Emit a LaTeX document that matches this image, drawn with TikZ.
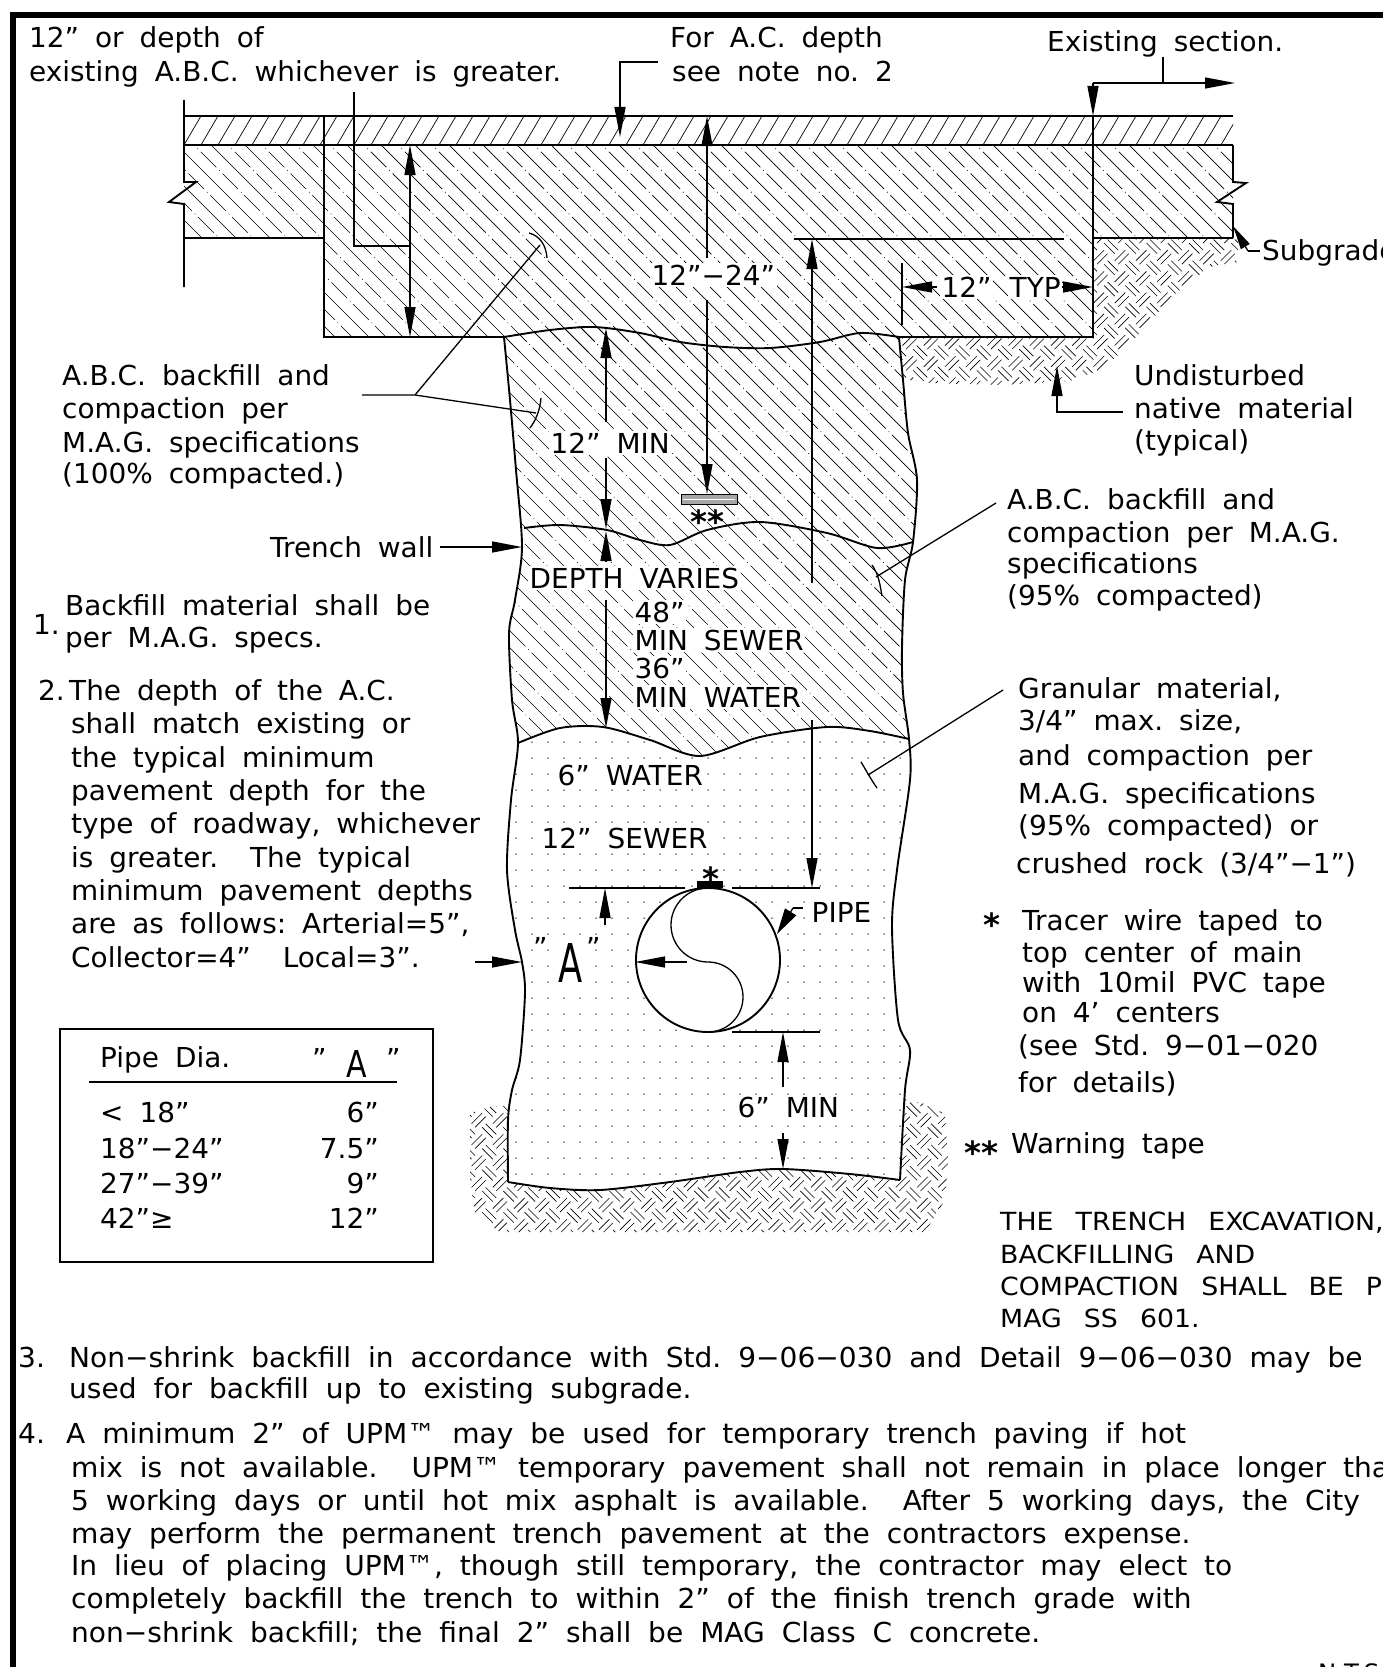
\documentclass[tikz,border=0pt]{standalone}
\usepackage{fontspec}
\usepackage{graphicx}
\setmainfont{DejaVu Sans}[WordSpace=1.8,FakeStretch=1.015]
\newfontfamily\capwide{DejaVu Sans}[WordSpace=2.6,FakeStretch=1.07]
\newfontfamily\notef{DejaVu Sans}[WordSpace=1.9,FakeStretch=1.02]
\usetikzlibrary{arrows.meta}
\newcommand\fs{\fontsize{27.5}{33}\selectfont}
\newcommand\mytxt[3]{\node[lbl] (#1) at (#2) {#3};}
\newcommand\mynote[3]{\node[lbl,font=\notef\fs] (#1) at (#2) {#3};}
\newcommand\mymask[3]{\node[lbl,mask] (#1) at (#2) {#3};}
\newcommand\astf{\bfseries\fontsize{32}{33}\selectfont}
\tikzset{
 lbl/.style={anchor=base west,inner sep=0pt,font=\fs},
 mask/.style={fill=white,inner sep=1.5pt},
 ol/.style={line width=1.9pt},
 thin/.style={line width=1.3pt},
 hat/.style={line width=0.7pt},
 wv/.style={line width=0.6pt},
 tick/.style={line width=1.3pt},
 tip/.style={-{Triangle[length=30pt,width=11pt]}},
 tips/.style={{Triangle[length=30pt,width=11pt]}-{Triangle[length=30pt,width=11pt]}}
}
% basket weave: origin x, origin y, imin, imax, jmax  (cell 15)
\newcommand\weave[5]{%
 \begin{scope}[shift={(#1,#2)},rotate=45]
 \foreach \i in {#3,...,#4}{\foreach \j in {0,...,#5}{%
   \pgfmathtruncatemacro\pp{mod(\i+\j+100,2)}%
   \ifnum\pp=0\relax
     \draw[wv] (\i*15,\j*15+5)--++(15,0) (\i*15,\j*15+10)--++(15,0);
   \else
     \draw[wv] (\i*15+5,\j*15)--++(0,15) (\i*15+10,\j*15)--++(0,15);
   \fi}}
 \end{scope}}
\newcommand\abchatch{%
 \foreach \k in {0,...,100}{%
  \pgfmathsetmacro\cc{-580+17*\k}%
  \ifodd\k\relax
    \draw[hat,dash pattern=on 22pt off 4pt on 0.8pt off 4pt] (\cc+130,130)--(\cc+770,770);
  \else
    \draw[hat] (\cc+130,130)--(\cc+770,770);
  \fi}}
\begin{document}
\frenchspacing
\begin{tikzpicture}[x=1pt,y=-1pt]
\useasboundingbox (0,0) rectangle (1382,1667);
\fill[white] (0,0) rectangle (1382,1667);

% ---------- undisturbed native material ----------
\begin{scope}
\clip (1093,238)--(1238,238)--(1238,262)--(1213,266)--(1190,282)--(1170,298)--(1150,322)--(1122,352)--(1100,370)--(1070,381)--(1000,385)--(930,383)--(903,379)--(900,337)--(1093,337)--cycle;
\weave{899}{236}{-8}{18}{24}
\end{scope}
\begin{scope}
\clip (470,1113)--(490,1107)--(512,1104)--(905,1099)--(925,1104)--(945,1114)--(948,1160)--(945,1200)--(925,1232)--(500,1232)--(475,1214)--(470,1180)--cycle;
\weave{468}{1099}{-7}{24}{30}
\end{scope}

% ---------- trench interior white ----------
\fill[white] plot[smooth] coordinates {(504,337) (510,400) (516,470) (522,547) (515,600) (509,633) (512,700) (518,743) (511,800) (507,870) (515,930) (522,962) (525,993) (520,1060) (512,1090) (508,1120) (508,1182)}
 -- plot[smooth] coordinates {(508,1182) (550,1188) (600,1190) (670,1182) (740,1172) (783,1169) (850,1174) (900,1180)}
 -- plot[smooth] coordinates {(900,1180) (905,1090) (910,1050) (898,1020) (892,927) (897,870) (910,780) (909,739) (903,693) (902,647) (905,580) (913,542) (917,480) (908,433) (903,380) (899,337)}
 -- plot[smooth] coordinates {(899,337) (860,333) (820,342) (770,348) (725,347) (680,342) (640,333) (594,327) (550,330) (504,337)} -- cycle;

% ---------- A.C. hatch ----------
\begin{scope}
\clip (184,116) rectangle (1233,145);
\foreach \x in {150,167,...,1240}{\draw[hat] (\x,145)--++(17,-29);}
\end{scope}

% ---------- A.B.C. hatch ----------
\begin{scope}
\clip (184,145)--(1233,145)--(1233,238)--(1093,238)--(1093,337)--(899,337)--(899,352)--(504,352)--(504,337)--(324,337)--(324,238)--(184,238)--cycle;
\abchatch
\end{scope}
\begin{scope}
\clip plot[smooth] coordinates {(504,337) (510,400) (516,470) (522,547) (515,600) (509,633) (512,700) (518,743)}
 -- plot[smooth] coordinates {(518,743) (560,728) (603,727) (650,740) (700,756) (760,737) (827,727) (870,731) (909,739)}
 -- plot[smooth] coordinates {(909,739) (903,693) (902,647) (905,580) (913,542) (917,480) (908,433) (903,380) (899,337)}
 -- plot[smooth] coordinates {(899,337) (860,333) (820,342) (770,348) (725,347) (680,342) (640,333) (594,327) (550,330) (504,337)} -- cycle;
\abchatch
\end{scope}

% ---------- granular dots ----------
\begin{scope}
\clip plot[smooth] coordinates {(518,743) (511,800) (507,870) (515,930) (522,962) (525,993) (520,1060) (512,1090) (508,1120) (508,1182)}
 -- plot[smooth] coordinates {(508,1182) (550,1188) (600,1190) (670,1182) (740,1172) (783,1169) (850,1174) (900,1180)}
 -- plot[smooth] coordinates {(900,1180) (905,1090) (910,1050) (898,1020) (892,927) (897,870) (910,780) (909,739)}
 -- plot[smooth] coordinates {(909,739) (870,731) (827,727) (760,737) (700,756) (650,740) (603,727) (560,728) (518,743)} -- cycle;
\foreach \x in {500,516,...,916}{\foreach \y in {726,742,...,1190}{\fill (\x,\y) circle[radius=0.75pt];}}
\end{scope}

% ---------- border ----------
\draw[line width=6pt] (13,1700)--(13,15)--(1400,15);

% ---------- pavement and excavation outlines ----------
\draw[ol] (184,116)--(1233,116);
\draw[ol] (184,145)--(1233,145);
\draw[ol] (184,100)--(184,182)--(196,182)--(169,202)--(184,204)--(184,287);
\draw[ol] (1233,145)--(1233,182)--(1246,183)--(1217,202)--(1233,204)--(1233,238);
\draw[ol] (184,238)--(324,238);
\draw[ol] (1093,238)--(1233,238);
\draw[ol] (324,116)--(324,337)--(504,337);
\draw[ol] (899,337)--(1093,337)--(1093,116);

% trench walls and layer boundaries
\draw[ol] plot[smooth] coordinates {(504,337) (510,400) (516,470) (522,547) (515,600) (509,633) (512,700) (518,743) (511,800) (507,870) (515,930) (522,962) (525,993) (520,1060) (512,1090) (508,1120) (508,1182)};
\draw[ol] plot[smooth] coordinates {(899,337) (903,380) (908,433) (917,480) (913,542) (905,580) (902,647) (903,693) (909,739) (910,780) (897,870) (892,927) (898,1020) (910,1050) (905,1090) (900,1180)};
\draw[ol] plot[smooth] coordinates {(504,337) (550,330) (594,327) (640,333) (680,342) (725,347) (770,348) (820,342) (860,333) (899,337)};
\draw[ol] plot[smooth] coordinates {(524,528) (560,525) (607,530) (640,540) (670,545) (707,530) (760,522) (827,533) (877,548) (913,542)};
\draw[ol] plot[smooth] coordinates {(518,743) (560,728) (603,727) (650,740) (700,756) (760,737) (827,727) (870,731) (909,739)};
\draw[ol] plot[smooth] coordinates {(508,1182) (550,1188) (600,1190) (670,1182) (740,1172) (783,1169) (850,1174) (900,1180)};

% ---------- pipe ----------
\fill[white] (708,960) circle[radius=72pt];
\draw[ol] (708,960) circle[radius=72pt];
\draw[thin] (708,888) arc[start angle=90,end angle=270,radius=37pt] arc[start angle=90,end angle=-90,radius=35pt];
\fill (697,881) rectangle (723,888);

% warning tape
\draw[line width=0.9pt,fill=black!35] (681,494) rectangle (737,504);
\draw[white,line width=1pt] (683,499)--(735,499);

% ---------- leaders and dimensions ----------
\draw[thin] (354,92)--(354,246)--(410,246);
\draw[thin,tips] (410,145)--(410,337);
\draw[thin,tip] (658,62)--(620,62)--(620,137);
\draw[thin] (1163,57)--(1163,83);
\draw[thin,tip] (1093,83)--(1235,83);
\draw[thin,tip] (1093,83)--(1093,116);
\draw[thin] (1260,251)--(1248,251);
\draw[thin,-{Triangle[length=24pt,width=10pt]}] (1248,251)--(1233,226);
\draw[thin] (362,395)--(415,395)--(540,245);
\draw[thin] (415,395)--(536,413);
\draw[tick] (529,233) .. controls (540,236) and (546,245) .. (547,258);
\draw[tick] (541,398) .. controls (540,410) and (536,420) .. (530,428);
\draw[thin,tip] (1123,412)--(1057,412)--(1057,366);
\draw[thin,tip] (440,547)--(522,547);
\draw[thin] (996,503)--(876,577);
\draw[tick] (872,565) .. controls (879,575) and (880,585) .. (882,596);
\draw[thin] (1003,690)--(868,775);
\draw[tick] (861,762) .. controls (866,770) and (870,778) .. (877,788);
\draw[thin,tip] (707,258)--(707,116);
\draw[thin,tip] (707,300)--(707,494);
\draw[thin] (902,263)--(902,325);
\draw[thin,tip] (937,287)--(902,287);
\draw[thin,tip] (1058,287)--(1093,287);
\draw[thin] (794,239)--(1064,239);
\draw[thin,tip] (812,583)--(812,239);
\draw[thin,tip] (812,720)--(812,888);
\draw[thin,tip] (606,422)--(606,328);
\draw[thin,tip] (606,458)--(606,529);
\draw[thin,tip] (606,562)--(606,531);
\draw[thin,tip] (606,600)--(606,728);
\draw[thin] (569,888)--(685,888) (732,888)--(820,888);
\draw[thin,tip] (605,925)--(605,888);
\draw[thin,tip] (687,962)--(635,962);
\draw[thin,tip] (475,962)--(522,962);
\draw[thin] (803,908)--(793,908);
\draw[thin,-{Triangle[length=26pt,width=13pt]}] (793,908)--(777,934);
\draw[thin] (732,1032)--(820,1032);
\draw[thin,tip] (783,1087)--(783,1032);
\draw[thin,tip] (783,1133)--(783,1169);

% ---------- table ----------
\draw[thin] (60,1029) rectangle (433,1262);
\draw[thin] (89,1082)--(397,1082);
\mytxt{tbh}{100,1067}{Pipe Dia.}
\mytxt{tbq1}{312,1068}{”}
\node[lbl,font=\fontsize{37}{40}\selectfont] (tbA) at (346,1077) {\scalebox{0.8}[1]{A}};
\mytxt{tbq2}{386,1068}{”}
\mytxt{tr1}{100,1122}{< 18”}
\mytxt{tr2}{100,1158}{18”−24”}
\mytxt{tr3}{100,1193}{27”−39”}
\mytxt{tr4}{100,1228}{42”≥}
\node[lbl,anchor=base east] (tv1) at (379,1122) {6”};
\node[lbl,anchor=base east] (tv2) at (379,1158) {7.5”};
\node[lbl,anchor=base east] (tv3) at (379,1193) {9”};
\node[lbl,anchor=base east] (tv4) at (379,1228) {12”};

% ---------- texts ----------
\mytxt{ta1}{29,48}{12” or depth of}
\mytxt{ta2}{29,82}{existing A.B.C. whichever is greater.}
\mytxt{tb1}{670,48}{For A.C. depth}
\mytxt{tb2}{672,82}{see note no. 2}
\mytxt{tc}{1047,52}{Existing section.}
\mytxt{td}{1262,260}{Subgrade}
\mytxt{te1}{1134,385}{Undisturbed}
\mytxt{te2}{1134,418}{native material}
\mytxt{te3}{1134,450}{(typical)}
\mytxt{tf1}{62,385}{A.B.C. backfill and}
\mytxt{tf2}{62,418}{compaction per}
\mytxt{tf3}{62,452}{M.A.G. specifications}
\mytxt{tf4}{62,483}{(100\% compacted.)}
\mytxt{tg}{270,557}{Trench wall}
\mytxt{th1}{1007,509}{A.B.C. backfill and}
\mytxt{th2}{1007,542}{compaction per M.A.G.}
\mytxt{th3}{1007,573}{specifications}
\mytxt{th4}{1007,605}{(95\% compacted)}
\mytxt{n1}{33,634}{1.}
\mytxt{n1a}{65,615}{Backfill material shall be}
\mytxt{n1b}{65,647}{per M.A.G. specs.}
\mytxt{n2}{38,700}{2.}
\mytxt{n2a}{69,700}{The depth of the A.C.}
\mytxt{n2b}{71,733}{shall match existing or}
\mytxt{n2c}{71,767}{the typical minimum}
\mytxt{n2d}{71,800}{pavement depth for the}
\mytxt{n2e}{71,833}{type of roadway, whichever}
\mytxt{n2f}{71,867}{is greater.\ \ The typical}
\mytxt{n2g}{71,900}{minimum pavement depths}
\mytxt{n2h}{71,933}{are as follows: Arterial=5”,}
\mytxt{n2i}{71,967}{Collector=4”\ \ Local=3”.}
\mytxt{tk1}{1018,698}{Granular material,}
\mytxt{tk2}{1018,730}{3/4” max. size,}
\mytxt{tk3}{1018,765}{and compaction per}
\mytxt{tk4}{1018,803}{M.A.G. specifications}
\mytxt{tk5}{1018,835}{(95\% compacted) or}
\mytxt{tk6}{1016,873}{crushed rock (3/4”−1”)}
\node[lbl,font=\astf] (tm0) at (983,936) {*};
\mytxt{tm1}{1022,930}{Tracer wire taped to}
\mytxt{tm2}{1022,962}{top center of main}
\mytxt{tm3}{1022,992}{with 10mil PVC tape}
\mytxt{tm4}{1022,1022}{on 4’ centers}
\mytxt{tm5}{1018,1055}{(see Std. 9−01−020}
\mytxt{tm6}{1018,1092}{for details)}
\node[lbl,font=\astf] (tw0) at (964,1164) {**};
\mytxt{tw1}{1011,1153}{Warning tape}
\node[lbl,font=\capwide\fontsize{25}{30}\selectfont] (tt1) at (1000,1230) {THE TRENCH EXCAVATION,};
\node[lbl,font=\capwide\fontsize{25}{30}\selectfont] (tt2) at (1000,1263) {BACKFILLING AND};
\node[lbl,font=\capwide\fontsize{25}{30}\selectfont] (tt3) at (1000,1295) {COMPACTION SHALL BE PER};
\node[lbl,font=\capwide\fontsize{25}{30}\selectfont] (tt4) at (1000,1327) {MAG SS 601.};
\mynote{n3}{18,1367}{3.}
\mynote{n3a}{69,1367}{Non−shrink backfill in accordance with Std. 9−06−030 and Detail 9−06−030 may be}
\mynote{n3b}{69,1398}{used for backfill up to existing subgrade.}
\mynote{n4}{18,1443}{4.}
\mynote{n4a}{66,1443}{A minimum 2” of UPM™ may be used for temporary trench paving if hot}
\mynote{n4b}{71,1477}{mix is not available.\ \ UPM™ temporary pavement shall not remain in place longer than}
\mynote{n4c}{71,1510}{5 working days or until hot mix asphalt is available.\ \ After 5 working days, the City}
\mynote{n4d}{71,1543}{may perform the permanent trench pavement at the contractors expense.}
\mynote{n4e}{71,1575}{In lieu of placing UPM™, though still temporary, the contractor may elect to}
\mynote{n4f}{71,1608}{completely backfill the trench to within 2” of the finish trench grade with}
\mynote{n4g}{71,1642}{non−shrink backfill; the final 2” shall be MAG Class C concrete.}
\node[lbl,font=\fontsize{24}{28}\selectfont] (nts) at (1318,1681) {N.T.S.};

% ---------- labels inside the section ----------
\mymask{d1}{650,285}{12”−24”}
\mymask{d2a}{940,297}{12”}
\mymask{d2b}{1008,297}{TYP}
\mymask{d3}{549,453}{12” MIN}
\mymask{d4}{528,588}{DEPTH VARIES}
\mymask{d5}{633,622}{48”}
\mymask{d6}{633,650}{MIN SEWER}
\mymask{d7}{633,678}{36”}
\mymask{d8}{633,707}{MIN WATER}
\mymask{d9}{556,785}{6” WATER}
\mymask{d10}{540,848}{12” SEWER}
\mymask{d11}{810,922}{PIPE}
\mymask{d12}{736,1117}{6” MIN}
\mytxt{dq1}{533,957}{”}
\node[lbl,mask,font=\fontsize{53.5}{58}\selectfont] (dA) at (557,982) {\scalebox{0.65}[1]{A}};
\mytxt{dq2}{586,957}{”}
\node[lbl,font=\astf] (dst) at (702,890) {*};
\node[lbl,font=\astf] (dss) at (690,533) {**};
\end{tikzpicture}
\end{document}
